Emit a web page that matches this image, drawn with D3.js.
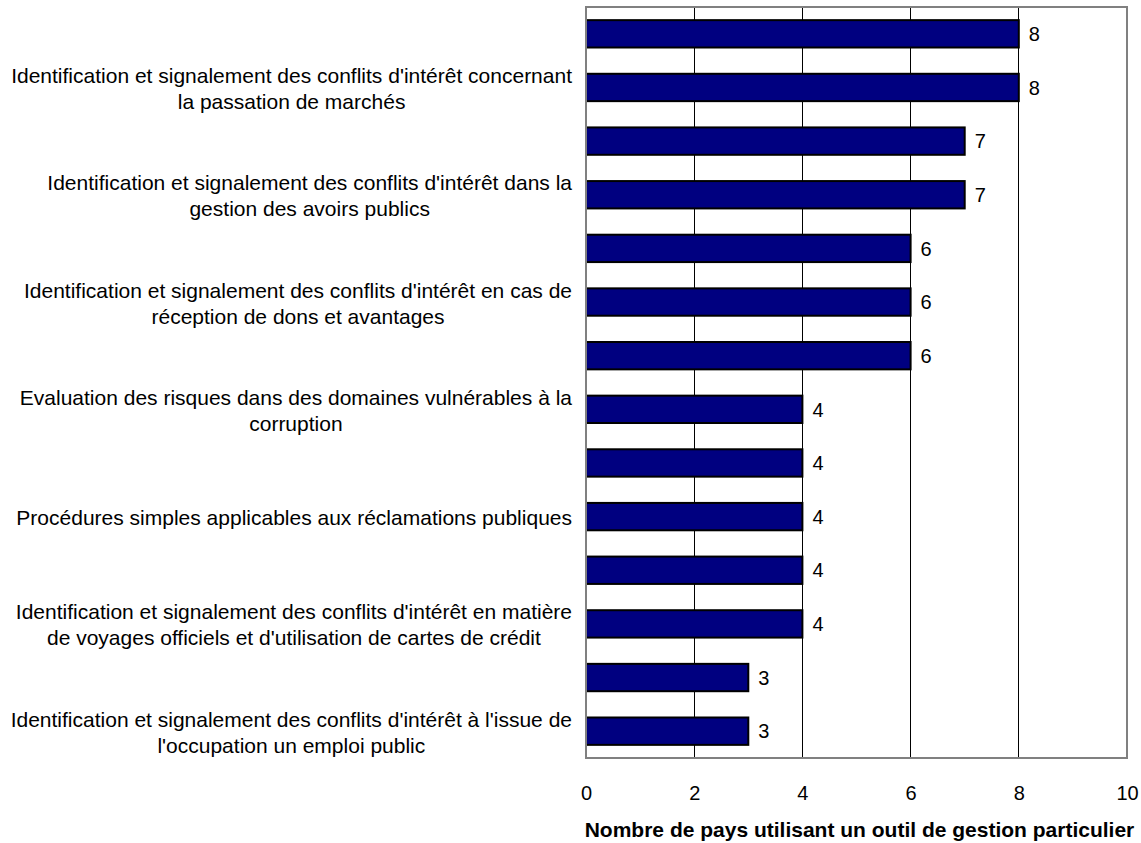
<!DOCTYPE html>
<html>
<head>
<meta charset="utf-8">
<script src="https://cdn.jsdelivr.net/npm/d3@7"></script>
<style>
  html, body { margin: 0; padding: 0; background: #fff; }
  svg { display: block; font-family: "Liberation Sans", Arial, sans-serif; }
</style>
</head>
<body>
<svg id="chart" width="1141" height="843"></svg>
<script>
// Category labels (every other category label is skipped on the axis, as in the source chart)
const categories = [
  "",
  "Identification et signalement des conflits d'intérêt concernant|la passation de marchés",
  "",
  "Identification et signalement des conflits d'intérêt dans la|gestion des avoirs publics",
  "",
  "Identification et signalement des conflits d'intérêt en cas de|réception de dons et avantages",
  "",
  "Evaluation des risques dans des domaines vulnérables à la|corruption",
  "",
  "Procédures simples applicables aux réclamations publiques",
  "",
  "Identification et signalement des conflits d'intérêt en matière|de voyages officiels et d'utilisation de cartes de crédit",
  "",
  "Identification et signalement des conflits d'intérêt à l'issue de|l'occupation un emploi public"
];
const values = [8, 8, 7, 7, 6, 6, 6, 4, 4, 4, 4, 4, 3, 3];
const xTicks = [0, 2, 4, 6, 8, 10];
const xTitle = "Nombre de pays utilisant un outil de gestion particulier";

const svg = d3.select("#chart");
const plot = { left: 586, right: 1127, top: 7, bottom: 758 };
const fs = 21;

const ids = d3.range(values.length);
const x = d3.scaleLinear().domain([0, 10]).range([plot.left, plot.right]);
const y = d3.scaleBand().domain(ids).range([plot.top, plot.bottom]).paddingInner(0.49).paddingOuter(0.245);

// Plot frame background
svg.append("rect")
  .attr("x", plot.left).attr("y", plot.top)
  .attr("width", plot.right - plot.left).attr("height", plot.bottom - plot.top)
  .attr("fill", "#fff");

// Vertical gridlines
svg.append("g")
  .selectAll("line")
  .data(xTicks.filter(t => t > 0 && t < 10))
  .join("line")
  .attr("x1", d => x(d)).attr("x2", d => x(d))
  .attr("y1", plot.top).attr("y2", plot.bottom)
  .attr("stroke", "#000").attr("stroke-width", 1)
  .attr("shape-rendering", "crispEdges");

// Bars
svg.append("g")
  .selectAll("rect")
  .data(values)
  .join("rect")
  .attr("x", x(0))
  .attr("y", (d, i) => y(i))
  .attr("width", d => x(d) - x(0))
  .attr("height", y.bandwidth())
  .attr("fill", "#000080")
  .attr("stroke", "#000")
  .attr("stroke-width", 2);

// Value labels
svg.append("g")
  .selectAll("text")
  .data(values)
  .join("text")
  .attr("x", d => x(d) + 10)
  .attr("y", (d, i) => y(i) + y.bandwidth() / 2)
  .attr("dy", "0.36em")
  .attr("font-size", fs - 1)
  .attr("fill", "#000")
  .text(d => d);

// Plot frame border
svg.append("rect")
  .attr("x", plot.left).attr("y", plot.top)
  .attr("width", plot.right - plot.left).attr("height", plot.bottom - plot.top)
  .attr("fill", "none")
  .attr("stroke", "#808080").attr("stroke-width", 2);

// X axis tick labels
const xAxis = d3.axisBottom(x).tickValues(xTicks).tickSize(0).tickPadding(0);
const gx = svg.append("g").attr("transform", `translate(0, ${plot.bottom})`).call(xAxis);
gx.select(".domain").remove();
gx.selectAll("text")
  .attr("font-family", "Liberation Sans, Arial, sans-serif")
  .attr("font-size", fs - 1)
  .attr("fill", "#000")
  .attr("dy", null)
  .attr("y", 42);

// X axis title
svg.append("text")
  .attr("x", (plot.left + plot.right) / 2 + 3)
  .attr("y", 837)
  .attr("text-anchor", "middle")
  .attr("font-size", fs)
  .attr("font-weight", "bold")
  .attr("fill", "#000")
  .text(xTitle);

// Category labels: centred multi-line blocks aligned against the plot's left edge
const labelRight = 572;
const lineH = 26;
const catG = svg.append("g");
categories.forEach((c, i) => {
  if (!c) return;
  const lines = c.split("|");
  const t = catG.append("text")
    .attr("font-size", fs)
    .attr("fill", "#000")
    .attr("text-anchor", "middle");
  const cy = y(i) + y.bandwidth() / 2 + 1;
  const y0 = cy - (lines.length - 1) * lineH / 2;
  const spans = lines.map((l, k) => t.append("tspan")
    .attr("y", y0 + k * lineH)
    .attr("dy", "0.36em")
    .text(l));
  const w = d3.max(spans, s => s.node().getComputedTextLength());
  spans.forEach(s => s.attr("x", labelRight - w / 2));
});
</script>
</body>
</html>
